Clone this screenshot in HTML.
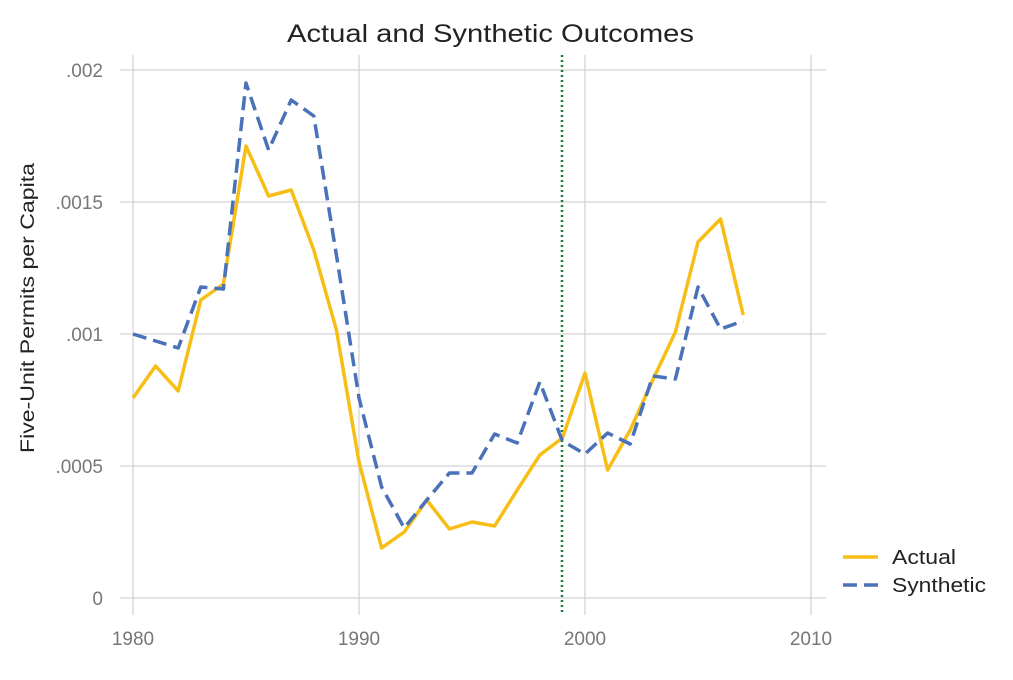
<!DOCTYPE html>
<html><head><meta charset="utf-8"><style>
body{margin:0;background:#fff}
svg text{font-family:"Liberation Sans",sans-serif}
</style></head><body>
<svg width="1013" height="675" viewBox="0 0 1013 675" xmlns="http://www.w3.org/2000/svg">
<rect width="1013" height="675" fill="#fff"/>
<g stroke="#cacaca" stroke-width="1">
<line x1="120" y1="598" x2="826" y2="598"/>
<line x1="120" y1="466" x2="826" y2="466"/>
<line x1="120" y1="334" x2="826" y2="334"/>
<line x1="120" y1="202" x2="826" y2="202"/>
<line x1="120" y1="70" x2="826" y2="70"/>
<line x1="133" y1="55" x2="133" y2="615"/>
<line x1="359" y1="55" x2="359" y2="615"/>
<line x1="585" y1="55" x2="585" y2="615"/>
<line x1="811" y1="55" x2="811" y2="615"/>
</g>
<g fill="#777" font-size="19">
<text x="103" y="605" text-anchor="end">0</text>
<text x="103" y="473" text-anchor="end">.0005</text>
<text x="103" y="341" text-anchor="end">.001</text>
<text x="103" y="209" text-anchor="end">.0015</text>
<text x="103" y="77" text-anchor="end">.002</text>
<text x="133" y="645" text-anchor="middle">1980</text>
<text x="359" y="645" text-anchor="middle">1990</text>
<text x="585" y="645" text-anchor="middle">2000</text>
<text x="811" y="645" text-anchor="middle">2010</text>
</g>
<text x="287" y="42" font-size="25" fill="#222" textLength="407" lengthAdjust="spacingAndGlyphs">Actual and Synthetic Outcomes</text>
<text transform="translate(34,453) rotate(-90)" font-size="19" fill="#222" textLength="290" lengthAdjust="spacingAndGlyphs">Five-Unit Permits per Capita</text>
<line x1="562" y1="55" x2="562" y2="615" stroke="#1a7a3a" stroke-width="2.5" stroke-dasharray="2,3"/>
<polyline fill="none" stroke="#f7be16" stroke-width="3.5" stroke-linejoin="round" points="133,398 155.6,366 178.2,391 200.8,300 223.4,284 246,146 268.6,196 291.2,190 313.8,250 336.4,330 359,462 381.6,548 404.2,532 426.8,500 449.4,529 472,522 494.6,526 517.2,490 539.8,455 562.4,438 585,373 607.6,470 630.2,430 652.8,380 675.4,332 698,242 720.6,219 743.2,315"/>
<polyline fill="none" stroke="#4a72b8" stroke-width="3.5" stroke-dasharray="14,7" stroke-linejoin="round" points="133,334 155.6,341 178.2,348 200.8,287 223.4,289 246,83 268.6,150 291.2,100 313.8,116 336.4,255 359,398 381.6,487 404.2,528 426.8,500 449.4,473 472,473 494.6,434 517.2,443 539.8,382 562.4,441 585,454 607.6,433 630.2,444 652.8,376 675.4,379 698,287 720.6,329 743.2,321"/>
<line x1="843" y1="557" x2="878" y2="557" stroke="#f7be16" stroke-width="3.5"/>
<line x1="843" y1="585" x2="878" y2="585" stroke="#4a72b8" stroke-width="3.5" stroke-dasharray="14,7"/>
<text x="892" y="564" font-size="20" fill="#222" textLength="64" lengthAdjust="spacingAndGlyphs">Actual</text>
<text x="892" y="592" font-size="20" fill="#222" textLength="94" lengthAdjust="spacingAndGlyphs">Synthetic</text>
</svg>
</body></html>
